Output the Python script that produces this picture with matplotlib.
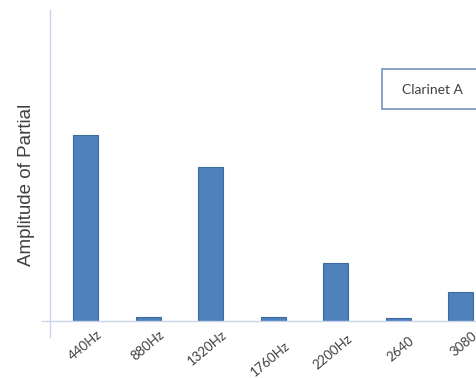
import matplotlib
matplotlib.use('Agg')
import matplotlib.pyplot as plt
from matplotlib.patches import Rectangle
from matplotlib.transforms import ScaledTranslation

# partial frequencies and their relative amplitudes (440Hz = 1.0)
labels = ['440Hz', '880Hz', '1320Hz', '1760Hz', '2200Hz', '2640', '3080']
amplitudes = [1.0, 0.022, 0.83, 0.022, 0.31, 0.018, 0.155]
series_name = 'Clarinet A'

# small per-label vertical shifts (pixels) seen in the original
label_drop = [0, 0, 0, 11, 5, 7, 2]

fig = plt.figure(figsize=(4.76, 3.78), dpi=100)
ax = fig.add_axes([50 / 476, 57 / 378, 426 / 476, 311 / 378])

x = list(range(len(labels)))
ax.bar(x, amplitudes, width=0.4, color='#4f81bd', edgecolor='#3b6aa0', linewidth=0.8)

ax.set_xlim(-0.568, 6.248)
ax.set_ylim(0, 1.672)

for side in ['top', 'right', 'left', 'bottom']:
    ax.spines[side].set_visible(False)
axis_col = '#c9d5ea'
ax.plot([0, 0], [-16 / 311, 1], transform=ax.transAxes, color=axis_col, lw=1, clip_on=False)
ax.plot([-8 / 426, 1], [0, 0], transform=ax.transAxes, color=axis_col, lw=1, clip_on=False)

ax.set_yticks([])
ax.set_xticks(x)
ax.set_xticklabels(labels, rotation=40, ha='right', va='top', rotation_mode='anchor',
                   fontsize=9.5, color='#404040', family='Lato')
ax.tick_params(axis='x', length=0, pad=5)
for lab, drop in zip(ax.get_xticklabels(), label_drop):
    lab.set_transform(lab.get_transform() + ScaledTranslation(0.11, -drop / 100, fig.dpi_scale_trans))

ax.set_ylabel('Amplitude of Partial', fontsize=13.5, color='#404040', family='Liberation Sans',
              labelpad=0)
ax.yaxis.set_label_coords(-15 / 426, 0.437)

# legend-like box, running off the right edge
fig.patches.append(Rectangle((382 / 476, 1 - 109 / 378), 110 / 476, 40 / 378,
                             transform=fig.transFigure, facecolor='white',
                             edgecolor='#7393c4', linewidth=1.2, clip_on=False))
fig.text(432 / 476, 1 - 90 / 378, series_name, ha='center', va='center',
         fontsize=10, color='#404040', family='Lato')

fig.savefig('out.png', dpi=100)
